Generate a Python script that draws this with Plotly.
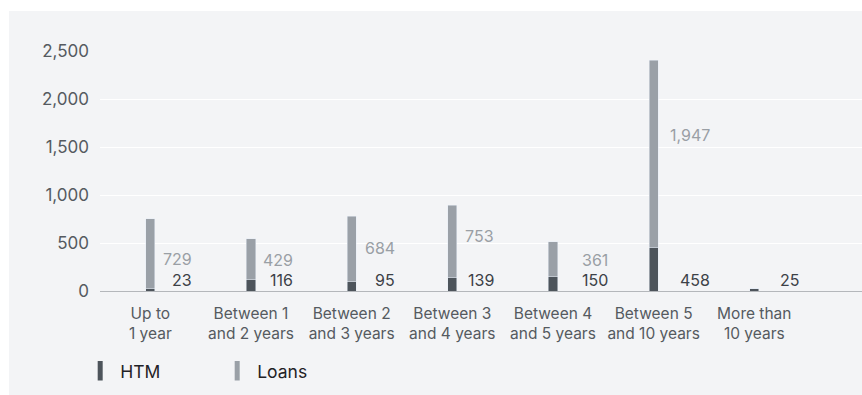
import plotly.graph_objects as go

categories = ["Up to<br>1 year", "Between 1<br>and 2 years", "Between 2<br>and 3 years",
              "Between 3<br>and 4 years", "Between 4<br>and 5 years", "Between 5<br>and 10 years",
              "More than<br>10 years"]
htm = [23, 116, 95, 139, 150, 458, 25]
loans = [729, 429, 684, 753, 361, 1947, 0]
y_ticks = [0, 500, 1000, 1500, 2000, 2500]

# styling: label placement (fraction of loans segment) and horizontal shift
loans_label_pos = [0.42, 0.49, 0.51, 0.57, 0.48, 0.60, 0.5]
label_xshift = [44, 44, 45, 44, 57, 58, 47]

HTM_C = "#4d545b"
LOANS_C = "#9aa0a7"
PANEL = "#f3f4f6"
FONT = "Inter"

x = list(range(len(categories)))
fig = go.Figure()
fig.add_trace(go.Bar(x=x, y=htm, name="HTM", marker_color=HTM_C, width=0.09, showlegend=False))
fig.add_trace(go.Bar(x=x, y=loans, name="Loans", marker_color=LOANS_C, width=0.09, showlegend=False))
# legend-only entries with narrow rectangular swatches
for name, col in [("HTM", HTM_C), ("Loans", LOANS_C)]:
    fig.add_trace(go.Scatter(x=[None], y=[None], mode="markers", name=name,
                             marker=dict(symbol="line-ns", size=14,
                                         line=dict(width=5, color=col))))

annotations = []
for i in x:
    annotations.append(dict(x=i, y=0, xref="x", yref="y", text=f"{htm[i]:,}",
                            showarrow=False, xanchor="right", yanchor="bottom",
                            xshift=label_xshift[i], yshift=-1,
                            font=dict(family=FONT, size=16, color="#3c4147")))
    if loans[i] > 0:
        annotations.append(dict(x=i, y=htm[i] + loans[i] * loans_label_pos[i], xref="x", yref="y",
                                text=f"{loans[i]:,}", showarrow=False,
                                xanchor="right", yanchor="middle", xshift=label_xshift[i],
                                font=dict(family=FONT, size=16, color="#9a9fa5")))

fig.update_layout(
    width=862, height=395,
    margin=dict(l=100, r=0, t=51, b=104),
    barmode="stack",
    paper_bgcolor="white",
    plot_bgcolor="rgba(0,0,0,0)",
    font=dict(family=FONT, size=16, color="#555a60"),
    showlegend=True,
    legend=dict(orientation="h", x=-0.026, xanchor="left", y=-0.333, yanchor="middle",
                entrywidth=92, entrywidthmode="pixels",
                font=dict(family=FONT, size=17.5, color="#1f2226"),
                bgcolor="rgba(0,0,0,0)", traceorder="normal"),
    annotations=annotations,
    shapes=[dict(type="rect", xref="paper", yref="paper", x0=-0.1194, x1=1.1,
                 y0=-0.5, y1=1.1667, fillcolor=PANEL, line=dict(width=0), layer="below")],
    xaxis=dict(tickvals=x, ticktext=categories, range=[-0.5, 7.07], showgrid=False,
               showline=True, linecolor="#b4b7bb", linewidth=1, zeroline=False,
               ticks="", ticklabelstandoff=8,
               tickfont=dict(family=FONT, size=15.5, color="#555a60")),
    yaxis=dict(range=[0, 2500], tickvals=y_ticks, ticktext=[f"{v:,}" for v in y_ticks],
               showgrid=True, gridcolor="white", gridwidth=1.2, zeroline=False,
               ticks="", ticklabelstandoff=10,
               tickfont=dict(family=FONT, size=17, color="#555a60")),
)

fig.write_html("out.html")
